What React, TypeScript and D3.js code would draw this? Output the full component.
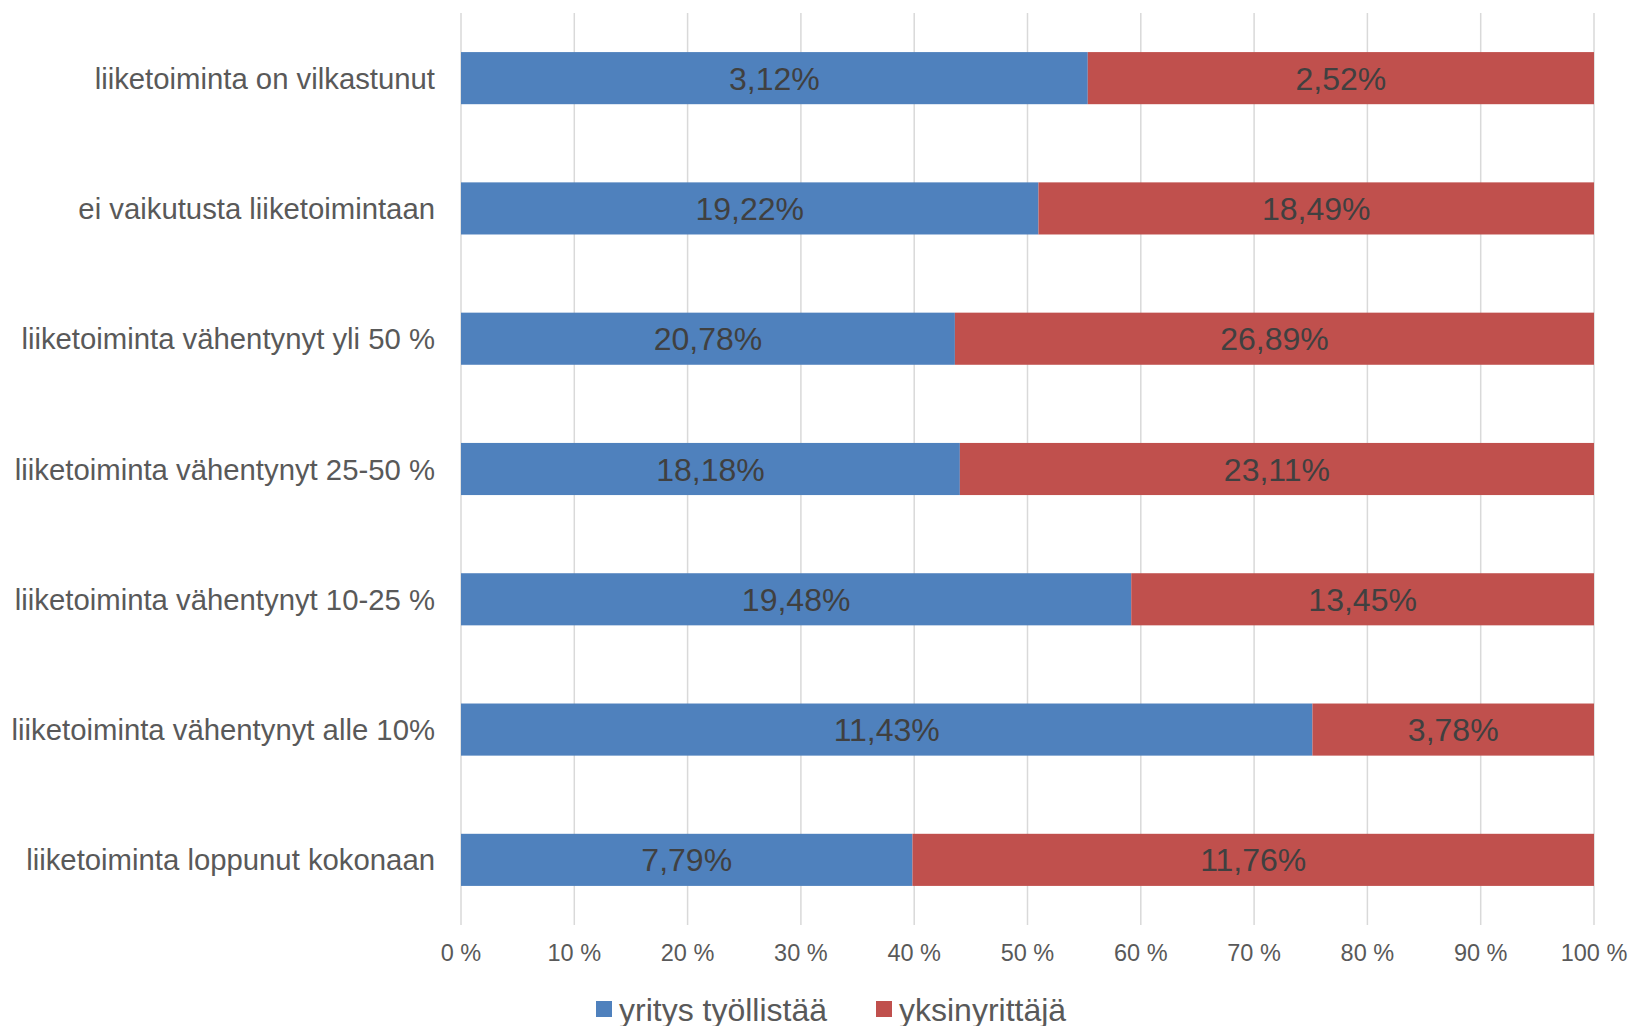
import * as d3 from "d3";

const categories = [
  "liiketoiminta on vilkastunut",
  "ei vaikutusta liiketoimintaan",
  "liiketoiminta vähentynyt yli 50 %",
  "liiketoiminta vähentynyt 25-50 %",
  "liiketoiminta vähentynyt 10-25 %",
  "liiketoiminta vähentynyt alle 10%",
  "liiketoiminta loppunut kokonaan",
];
const seriesNames = ["yritys työllistää", "yksinyrittäjä"];
const employerValues = [3.12, 19.22, 20.78, 18.18, 19.48, 11.43, 7.79];
const soloValues = [2.52, 18.49, 26.89, 23.11, 13.45, 3.78, 11.76];
const xTicks = [0, 0.1, 0.2, 0.3, 0.4, 0.5, 0.6, 0.7, 0.8, 0.9, 1];

const colors = ["#4F81BD", "#C0504D"];
const font = "'Liberation Sans', Arial, sans-serif";

const W = 1631;
const H = 1026;
const left = 461;
const right = 1594;
const top = 13;
const bottom = 925;

const fmt = (v: number) => v.toFixed(2).replace(".", ",") + "%";

export default function App() {
  const rows = categories.map((c, i) => ({
    cat: c,
    a: employerValues[i],
    b: soloValues[i],
  }));
  const stacked = d3
    .stack<{ cat: string; a: number; b: number }>()
    .keys(["a", "b"])
    .offset(d3.stackOffsetExpand)(rows);

  const x = d3.scaleLinear().domain([0, 1]).range([left, right]);
  const y = d3
    .scaleBand()
    .domain(categories)
    .range([top, bottom])
    .paddingInner(0.6)
    .paddingOuter(0.3);

  return (
    <svg
      width={W}
      height={H}
      style={{ position: "absolute", left: 0, top: 0, background: "#fff" }}
    >
      {xTicks.map((t) => (
        <line
          key={t}
          x1={x(t)}
          x2={x(t)}
          y1={top}
          y2={bottom}
          stroke="#D9D9D9"
          strokeWidth={1.5}
        />
      ))}
      {stacked.map((layer, si) =>
        layer.map((d, i) => {
          const x0 = x(d[0]);
          const x1 = x(d[1]);
          const yy = y(categories[i])!;
          const raw = si === 0 ? employerValues[i] : soloValues[i];
          return (
            <g key={si + "-" + i}>
              <rect
                x={x0}
                y={yy}
                width={x1 - x0}
                height={y.bandwidth()}
                fill={colors[si]}
              />
              <text
                x={(x0 + x1) / 2}
                y={yy + y.bandwidth() / 2}
                dy="0.36em"
                textAnchor="middle"
                fontFamily={font}
                fontSize={32}
                fill="#404040"
              >
                {fmt(raw)}
              </text>
            </g>
          );
        })
      )}
      {categories.map((c) => (
        <text
          key={c}
          x={left - 26}
          y={y(c)! + y.bandwidth() / 2}
          dy="0.36em"
          textAnchor="end"
          fontFamily={font}
          fontSize={29.3}
          fill="#595959"
        >
          {c}
        </text>
      ))}
      {xTicks.map((t) => (
        <text
          key={"t" + t}
          x={x(t)}
          y={953}
          dy="0.36em"
          textAnchor="middle"
          fontFamily={font}
          fontSize={23.5}
          fill="#595959"
        >
          {Math.round(t * 100) + " %"}
        </text>
      ))}
      {seriesNames.map((s, i) => {
        const lx = i === 0 ? 596 : 876;
        return (
          <g key={s}>
            <rect x={lx} y={1001} width={16} height={16} fill={colors[i]} />
            <text
              x={lx + 23}
              y={1009}
              dy="0.36em"
              fontFamily={font}
              fontSize={32}
              fill="#595959"
            >
              {s}
            </text>
          </g>
        );
      })}
    </svg>
  );
}
